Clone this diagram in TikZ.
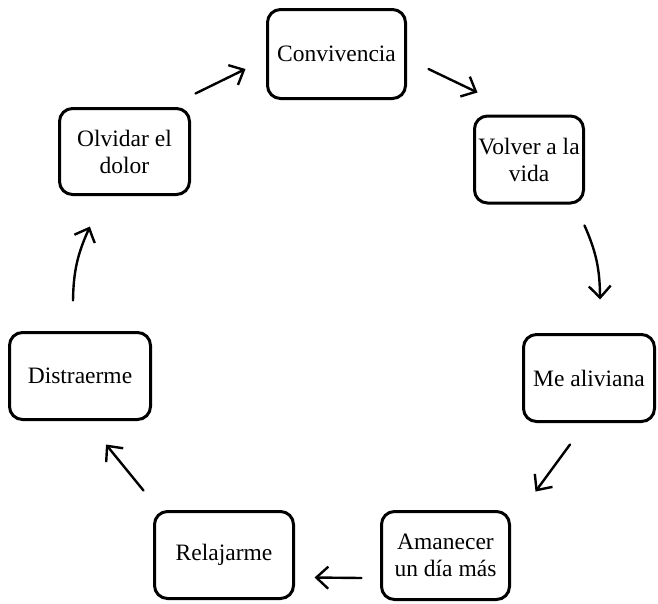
\documentclass[tikz,border=0pt]{standalone}
\usepackage{fontspec}
\setmainfont{Liberation Serif}
\usetikzlibrary{arrows.meta, bending}

\begin{document}
\begin{tikzpicture}[x=1pt, y=-1pt,
every node/.style = {draw, line width=3pt, rounded corners=13pt,
                     inner sep=0pt, align=center,
                     font=\fontsize{23.5}{27}\selectfont},
flow/.style = {draw, line width=2.4pt, line cap=round,
               -{Straight Barb[length=12pt, width=22pt, bend]}},
                    ]
\useasboundingbox (0,0) rectangle (658,603);
%-------
\node (conv)    [minimum width=138, minimum height=89] at (336.5,54)   {Convivencia};
\node (volver)  [minimum width=109, minimum height=87] at (529,159.5)  {Volver a la\\ vida};
\node (alivia)  [minimum width=131, minimum height=87] at (589,378)    {Me aliviana};
\node (amanece) [minimum width=128, minimum height=88] at (445.5,555.5) {Amanecer\\ un día más};
\node (relaja)  [minimum width=139, minimum height=87] at (224,555)    {Relajarme};
\node (distrae) [minimum width=141, minimum height=87] at (80,376)     {Distraerme};
\node (olvida)  [minimum width=130, minimum height=86] at (124.5,151.5) {Olvidar el\\ dolor};
% edges
\path[every edge/.style=flow]
([shift={(4.5,-13.5)}] olvida.north east) edge ([shift={(-20.5,15)}] conv.west)
([shift={(21.5,15)}] conv.east)           edge ([shift={(4.5,-22)}] volver.north west)
([shift={(-0.5,21)}] volver.south east)   edge[bend left=12] ([shift={(11,-33.5)}] alivia.north)
([shift={(-19,21.5)}] alivia.south)       edge ([shift={(24.5,-18.5)}] amanece.north east)
([shift={(-18.5,22.5)}] amanece.west)     edge ([shift={(19.5,22.5)}] relaja.east)
([shift={(-9.5,-19.5)}] relaja.north west) edge ([shift={(26,23.5)}] distrae.south)
([shift={(-7,-30.5)}] distrae.north)      edge[bend left=12] ([shift={(-34.5,30.5)}] olvida.south);
\end{tikzpicture}
\end{document}
